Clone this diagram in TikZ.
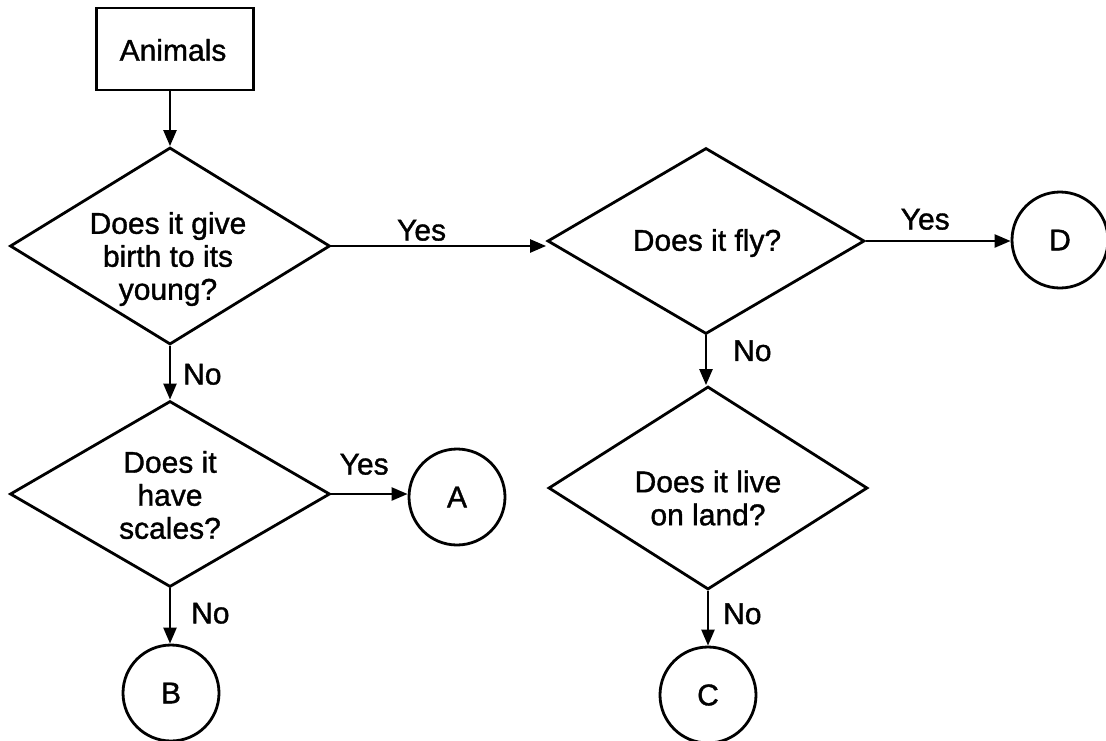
\documentclass[tikz,border=0pt]{standalone}
\usepackage{fontspec}
\setmainfont{Liberation Sans}[FakeBold=1.2]
\usetikzlibrary{shapes.geometric,arrows.meta}
\begin{document}
\begin{tikzpicture}[x=1pt,y=-1pt,
  txt/.style={font=\fontsize{30}{33}\selectfont},
  decision/.style={draw,shape=diamond,inner sep=0pt,line width=2.8pt},
  qtext/.style={txt,align=center,inner sep=0pt},
  term/.style={draw,circle,minimum size=96pt,inner sep=0pt,line width=2.8pt,txt},
  startbox/.style={draw,rectangle,minimum width=157pt,minimum height=82pt,line width=2.8pt,txt},
  flow/.style={-{Triangle[length=16pt,width=13pt]},line width=2.4pt},
  lab/.style={txt,inner sep=0pt}]
\useasboundingbox (0,0) rectangle (1106,740);

\node[startbox] (animals) at (175,49) {};
\node[txt,inner sep=0pt] (animalst) at (173,50) {Animals};

\node[decision,minimum width=320pt,minimum height=197pt] (q1) at (170,246) {};
\node[qtext] (q1t) at (168,259) {Does it give\\birth to its\\young?};

\node[decision,minimum width=317pt,minimum height=186pt] (q2) at (706,241) {};
\node[qtext] (q2t) at (707,243) {Does it fly?};

\node[decision,minimum width=319pt,minimum height=203pt] (q3) at (708,488) {};
\node[qtext] (q3t) at (708,498) {Does it live\\on land?};

\node[decision,minimum width=320pt,minimum height=186pt] (q4) at (170,494) {};
\node[qtext] (q4t) at (170,495) {Does it\\have\\scales?};

\node[term] (A) at (457,497) {A};
\node[term] (B) at (171,693) {B};
\node[term] (C) at (708,695) {C};
\node[term] (D) at (1060,240) {D};

\draw[flow] (animals.south -| q1.north) -- (q1.north);
\draw[flow] (q1.east) -- node[lab,anchor=south,pos=0.42,yshift=4pt] {Yes} (q1.east -| q2.west);
\draw[flow] (q2.east) -- node[lab,anchor=south,pos=0.41,yshift=10pt] {Yes} (q2.east -| D.west);
\draw[flow] (q2.south) -- node[lab,anchor=west,pos=0.31,xshift=26pt] {No} (q2.south |- q3.north);
\draw[flow] (q1.south) -- node[lab,anchor=west,pos=0.53,xshift=12pt] {No} (q4.north);
\draw[flow] (q4.east) -- node[lab,anchor=south,pos=0.43,yshift=18pt] {Yes} (q4.east -| A.west);
\draw[flow] (q4.south) -- node[lab,anchor=west,pos=0.45,xshift=20pt] {No} (q4.south |- B.north);
\draw[flow] (q3.south) -- node[lab,anchor=west,pos=0.42,xshift=14pt] {No} (C.north);
\end{tikzpicture}
\end{document}
